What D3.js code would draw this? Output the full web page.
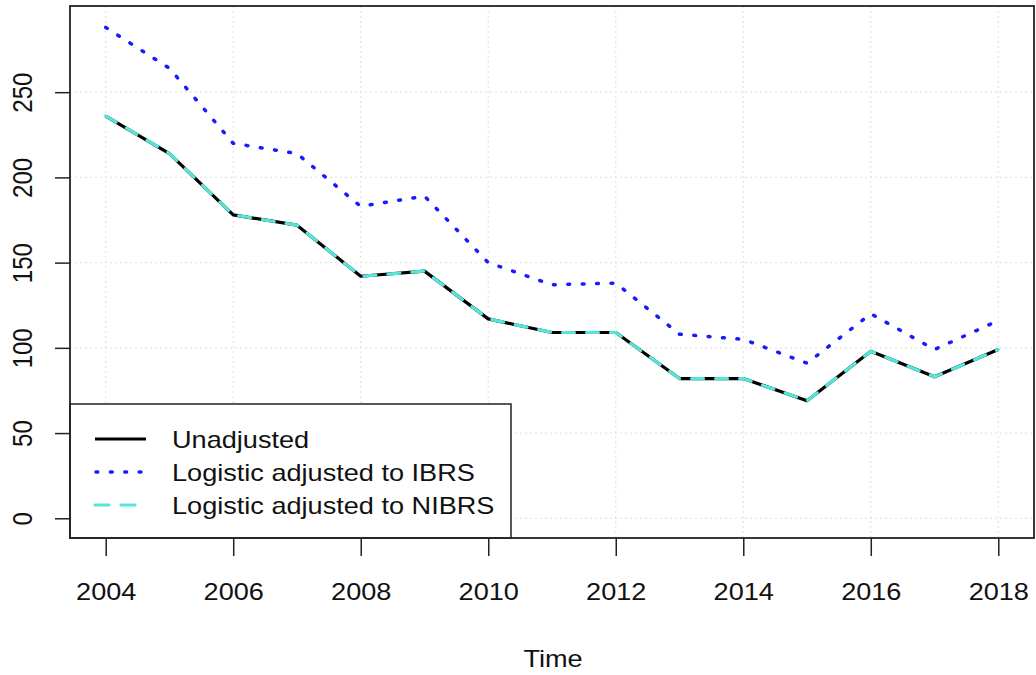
<!DOCTYPE html>
<html>
<head>
<meta charset="utf-8">
<script src="https://cdn.jsdelivr.net/npm/d3@7/dist/d3.min.js"></script>
<style>
  html, body { margin: 0; padding: 0; background: #fff; }
  svg text { font-family: "Liberation Sans", Arial, sans-serif; fill: #111; }
</style>
</head>
<body>
<svg id="chart" width="1036" height="675"></svg>
<script>
// Yearly series
const years = [2004, 2005, 2006, 2007, 2008, 2009, 2010, 2011, 2012, 2013, 2014, 2015, 2016, 2017, 2018];
const unadjusted = [236, 214, 178, 172, 142, 145, 117, 109, 109, 82, 82, 69, 98, 83, 99];
const ibrsAdjusted = [288, 264, 220, 214, 183, 189, 150, 137, 138, 108, 105, 91, 120, 99, 116];
const nibrsAdjusted = [236, 214, 178, 172, 142, 145, 117, 109, 109, 82, 82, 69, 98, 83, 99];

const xTicks = [2004, 2006, 2008, 2010, 2012, 2014, 2016, 2018];
const yTicks = [0, 50, 100, 150, 200, 250];
const legendLabels = ["Unadjusted", "Logistic adjusted to IBRS", "Logistic adjusted to NIBRS"];

const svg = d3.select("#chart");
const plotL = 70, plotR = 1034, plotT = 6, plotB = 538;

// axis limits padded 4% beyond the data range
const xPad = (2018 - 2004) * 0.04;
const yMax = 289, yPad = yMax * 0.04;
const x = d3.scaleLinear().domain([2004 - xPad, 2018 + xPad]).range([plotL, plotR]);
const y = d3.scaleLinear().domain([-yPad, yMax + yPad]).range([plotB, plotT]);

// text is drawn slightly wide
const FS = 24, SX = 1.13;

// dotted reference grid
const grid = svg.append("g").attr("stroke", "#e4e4e4").attr("stroke-width", 1.2)
  .attr("stroke-dasharray", "2,3");
grid.selectAll("line.v").data(xTicks).join("line").attr("class", "v")
  .attr("x1", d => x(d)).attr("x2", d => x(d)).attr("y1", plotT).attr("y2", plotB);
grid.selectAll("line.h").data(yTicks).join("line").attr("class", "h")
  .attr("x1", plotL).attr("x2", plotR).attr("y1", d => y(d)).attr("y2", d => y(d));

// series
const line = d3.line().x((d, i) => x(years[i])).y(d => y(d));
svg.append("path").datum(unadjusted).attr("d", line)
  .attr("fill", "none").attr("stroke", "#000").attr("stroke-width", 3.2)
  .attr("stroke-linejoin", "round");
svg.append("path").datum(ibrsAdjusted).attr("d", line)
  .attr("fill", "none").attr("stroke", "#1a1aff").attr("stroke-width", 3.5)
  .attr("stroke-linecap", "round").attr("stroke-dasharray", "1.8,12.6");
svg.append("path").datum(nibrsAdjusted).attr("d", line)
  .attr("fill", "none").attr("stroke", "#55e6d9").attr("stroke-width", 3.2)
  .attr("stroke-linecap", "round").attr("stroke-dasharray", "12,12");

// x axis
const xAxis = d3.axisBottom(x).tickValues(xTicks).tickFormat(d3.format("d"))
  .tickSize(18).tickPadding(27);
const gx = svg.append("g").attr("transform", `translate(0,${plotB})`).call(xAxis);
gx.select(".domain").remove();
gx.selectAll(".tick line").attr("stroke", "#222").attr("stroke-width", 1.5);
gx.selectAll(".tick text").attr("font-size", FS).attr("fill", "#111")
  .attr("font-family", "Liberation Sans, Arial, sans-serif")
  .attr("transform", `scale(${SX},1)`);

// y axis with rotated labels
const yAxis = d3.axisLeft(y).tickValues(yTicks).tickSize(15).tickPadding(0);
const gy = svg.append("g").attr("transform", `translate(${plotL},0)`).call(yAxis);
gy.select(".domain").remove();
gy.selectAll(".tick line").attr("stroke", "#222").attr("stroke-width", 1.5);
gy.selectAll(".tick text").attr("font-size", FS).attr("fill", "#111")
  .attr("font-family", "Liberation Sans, Arial, sans-serif")
  .attr("text-anchor", "middle").attr("x", 0).attr("dy", 0)
  .attr("transform", `translate(-38,0) scale(${SX},1) rotate(-90)`);

// x axis title
svg.append("text").attr("transform", `translate(${(plotL + plotR) / 2 + 1},667) scale(${SX},1)`)
  .attr("text-anchor", "middle").attr("font-size", FS).text("Time");

// legend
const lg = svg.append("g");
lg.append("rect").attr("x", plotL).attr("y", 404).attr("width", 441).attr("height", plotB - 404)
  .attr("fill", "#fff").attr("stroke", "#222").attr("stroke-width", 1.5);
const legendStyles = [
  { stroke: "#000", dash: null, width: 3.2, cap: "butt" },
  { stroke: "#1a1aff", dash: "1.8,12.6", width: 3.5, cap: "round" },
  { stroke: "#55e6d9", dash: "14,12", width: 3.2, cap: "round" }
];
legendLabels.forEach((lab, i) => {
  const cy = 439 + i * 33;
  const s = legendStyles[i];
  lg.append("line").attr("x1", i === 1 ? 96 : 95).attr("x2", 146).attr("y1", cy).attr("y2", cy)
    .attr("stroke", s.stroke).attr("stroke-width", s.width)
    .attr("stroke-linecap", s.cap).attr("stroke-dasharray", s.dash);
  lg.append("text").attr("transform", `translate(172,${cy}) scale(${SX},1)`).attr("dy", "0.36em")
    .attr("font-size", FS).text(lab);
});

// plot frame
svg.append("rect").attr("x", plotL).attr("y", plotT).attr("width", plotR - plotL).attr("height", plotB - plotT)
  .attr("fill", "none").attr("stroke", "#222").attr("stroke-width", 1.8);
</script>
</body>
</html>
